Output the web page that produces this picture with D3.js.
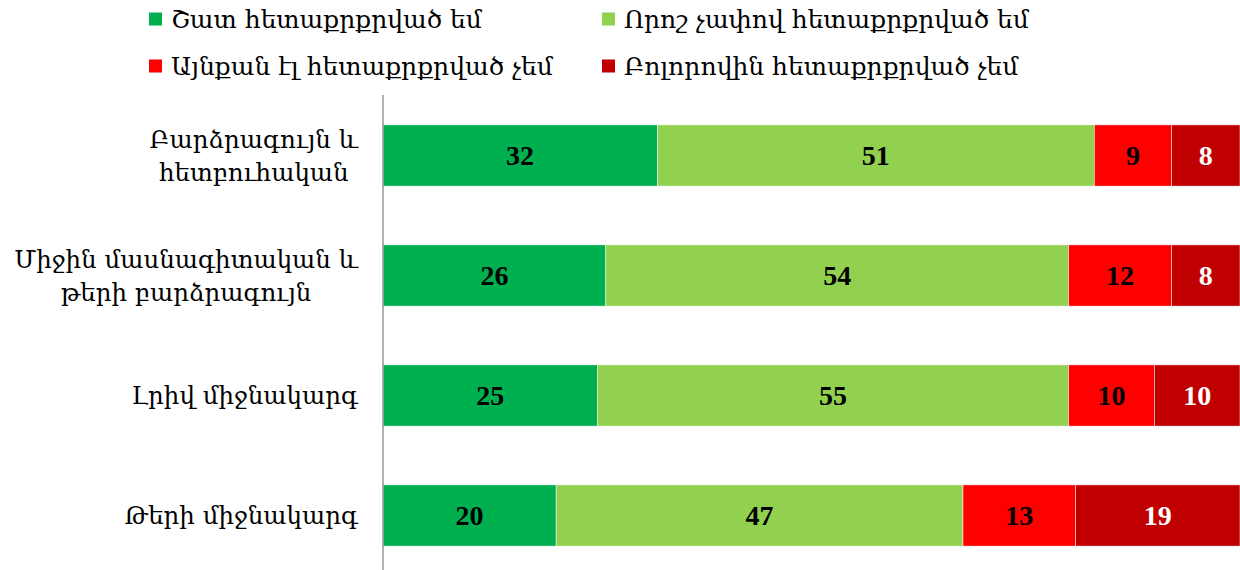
<!DOCTYPE html>
<html>
<head>
<meta charset="utf-8">
<script src="https://cdn.jsdelivr.net/npm/d3@7"></script>
<style>
  html, body { margin: 0; padding: 0; background: #fff; }
  svg { display: block; }
</style>
</head>
<body>
<svg id="chart" width="1240" height="570"></svg>
<script>
// ---- data ----
const categories = [
  "Բարձրագույն և հետբուհական",
  "Միջին մասնագիտական և թերի բարձրագույն",
  "Լրիվ միջնակարգ",
  "Թերի միջնակարգ"
];
const categoryLines = [
  ["Բարձրագույն և", "հետբուհական"],
  ["Միջին մասնագիտական և", "թերի բարձրագույն"],
  ["Լրիվ միջնակարգ"],
  ["Թերի միջնակարգ"]
];
const seriesNames = [
  "Շատ հետաքրքրված եմ",
  "Որոշ չափով հետաքրքրված եմ",
  "Այնքան էլ հետաքրքրված չեմ",
  "Բոլորովին հետաքրքրված չեմ"
];
const veryInterested = [32, 26, 25, 20];
const somewhatInterested = [51, 54, 55, 47];
const notSoInterested = [9, 12, 10, 13];
const notAtAll = [8, 8, 10, 19];
const seriesColors = ["#00B050", "#92D050", "#FF0000", "#C00000"];
const labelColors = ["#000", "#000", "#000", "#fff"];

// ---- build table ----
const seriesValues = [veryInterested, somewhatInterested, notSoInterested, notAtAll];
const keys = seriesNames;
const table = categories.map((c, i) => {
  const row = { category: c, idx: i };
  keys.forEach((k, j) => row[k] = seriesValues[j][i]);
  return row;
});

const svg = d3.select("#chart");
const serif = "'Liberation Serif', 'DejaVu Serif', serif";
const armFont = "'DejaVu Serif', serif";

const x = d3.scaleLinear().domain([0, 1]).range([383, 1240]);
const y = d3.scaleBand().domain(categories).range([95.5, 575.5])
  .paddingInner(0.49).paddingOuter(0.245);

const stack = d3.stack().keys(keys).offset(d3.stackOffsetExpand);
const stacked = stack(table);

const groups = svg.append("g").selectAll("g")
  .data(stacked).join("g")
  .attr("fill", (d, i) => seriesColors[i]);

groups.selectAll("rect")
  .data(d => d.map(v => ({ v, key: d.key })))
  .join("rect")
  .attr("x", d => x(d.v[0]))
  .attr("y", d => y(d.v.data.category))
  .attr("width", d => x(d.v[1]) - x(d.v[0]))
  .attr("height", y.bandwidth())
  .attr("stroke", "#fff")
  .attr("stroke-width", 0.5);

groups.each(function(s, si) {
  d3.select(this).selectAll("text")
    .data(s).join("text")
    .attr("x", d => (x(d[0]) + x(d[1])) / 2)
    .attr("y", d => y(d.data.category) + y.bandwidth() / 2)
    .attr("dy", "0.35em")
    .attr("text-anchor", "middle")
    .attr("fill", labelColors[si])
    .style("font-family", serif)
    .style("font-weight", "bold")
    .style("font-size", "28px")
    .text(d => d.data[s.key]);
});

// axis line
svg.append("line")
  .attr("x1", 383).attr("x2", 383)
  .attr("y1", 95).attr("y2", 570)
  .attr("stroke", "#999").attr("stroke-width", 1.5);

// category labels
const labelRight = 358;
const lineH = 33;
categories.forEach((c, i) => {
  const lines = categoryLines[i];
  const g = svg.append("g");
  const texts = lines.map((ln, li) => g.append("text")
    .style("font-family", armFont)
    .style("font-size", "24.5px")
    .attr("fill", "#000")
    .text(ln));
  const widths = texts.map(t => t.node().getComputedTextLength());
  const maxW = d3.max(widths);
  const cx = labelRight - maxW / 2;
  const cy = y(c) + y.bandwidth() / 2;
  texts.forEach((t, li) => {
    const off = (li - (lines.length - 1) / 2) * lineH;
    t.attr("x", cx).attr("text-anchor", "middle")
      .attr("y", cy + off).attr("dy", "0.35em");
  });
});

// legend
const legendCols = [149, 602];
const legendRows = [19, 66];
seriesNames.forEach((name, i) => {
  const lx = legendCols[i % 2];
  const ly = legendRows[Math.floor(i / 2)];
  const g = svg.append("g").attr("transform", `translate(${lx},${ly})`);
  g.append("rect").attr("x", 0).attr("y", -6.5).attr("width", 13).attr("height", 13)
    .attr("fill", seriesColors[i]);
  g.append("text").attr("x", 22).attr("y", 0).attr("dy", "0.35em")
    .style("font-family", armFont)
    .style("font-size", "25px")
    .attr("fill", "#000")
    .text(name);
});
</script>
</body>
</html>
